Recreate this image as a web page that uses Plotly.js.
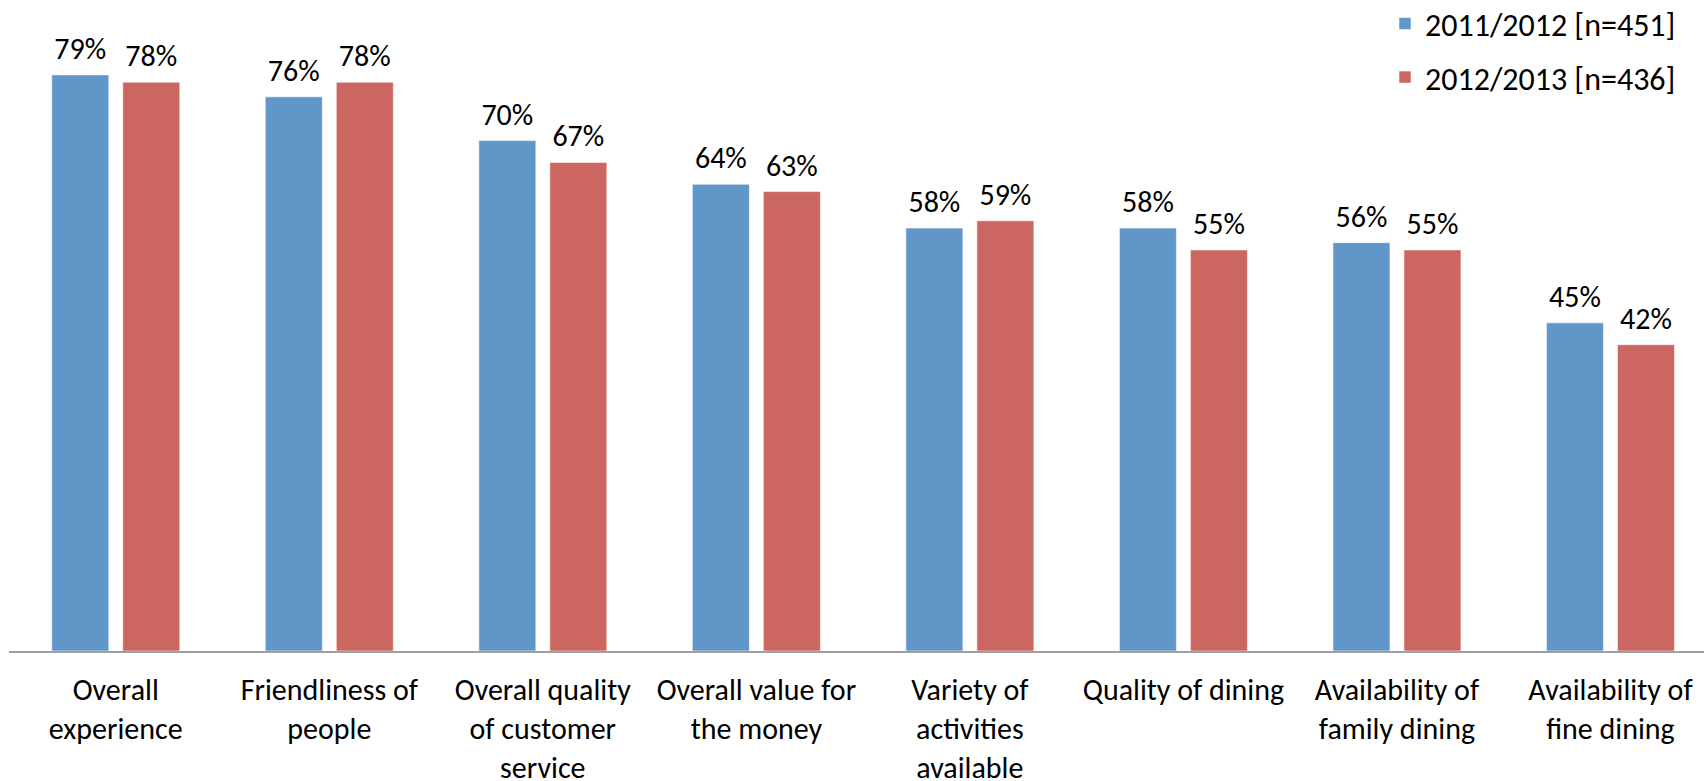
<!DOCTYPE html>
<html>
<head>
<meta charset="utf-8">
<script src="https://cdn.plot.ly/plotly-3.0.1.min.js"></script>
<style>
  html, body { margin: 0; padding: 0; background: #ffffff; }
  #chart { width: 1704px; height: 781px; }
</style>
</head>
<body>
<div id="chart"></div>
<script>
// Survey categories (x axis labels)
const categories = [
  "Overall<br>experience",
  "Friendliness of<br>people",
  "Overall quality<br>of customer<br>service",
  "Overall value for<br>the money",
  "Variety of<br>activities<br>available",
  "Quality of dining",
  "Availability of<br>family dining",
  "Availability of<br>fine dining"
];

// Share of satisfied respondents per season
const season1112 = [0.79, 0.76, 0.70, 0.64, 0.58, 0.58, 0.56, 0.45];
const season1213 = [0.78, 0.78, 0.67, 0.63, 0.59, 0.55, 0.55, 0.42];

const seriesNames = ["2011/2012 [n=451]", "2012/2013 [n=436]"];
const seriesColors = ["rgb(97,150,201)", "rgb(204,102,96)"];

const fontFamily = "Carlito, Lato, 'Liberation Sans', sans-serif";
const labelFont = { family: fontFamily, size: 30, color: "#000000" };

function barTrace(values, i) {
  return {
    type: "bar",
    name: seriesNames[i],
    x: categories,
    y: values,
    legendgroup: "g" + i,
    marker: { color: seriesColors[i], line: { color: "rgba(255,255,255,0.55)", width: 1 } },
    hoverinfo: "skip"
  };
}

// Value labels sit above each bar, grouped the same way as the bars
function labelTrace(values, i) {
  return {
    type: "scatter",
    mode: "markers+text",
    orientation: "v",
    x: categories,
    y: values,
    text: values.map(v => Math.round(v * 100) + "%"),
    textposition: "top center",
    textfont: labelFont,
    marker: { size: 12, color: "rgba(0,0,0,0)" },
    showlegend: false,
    hoverinfo: "skip",
    cliponaxis: false
  };
}

const data = [
  barTrace(season1112, 0),
  barTrace(season1213, 1),
  labelTrace(season1112, 0),
  labelTrace(season1213, 1)
];

const layout = {
  width: 1704,
  height: 781,
  margin: { l: 9, r: 0, t: 2, b: 130, autoexpand: false },
  paper_bgcolor: "#ffffff",
  plot_bgcolor: "#ffffff",
  barmode: "group",
  bargap: 0.335,
  bargroupgap: 0.197,
  scattermode: "group",
  scattergap: 0.335,
  showlegend: true,
  legend: {
    x: 0.8118,
    xanchor: "left",
    y: 1.009,
    yanchor: "top",
    font: { family: fontFamily, size: 32, color: "#000000" },
    bgcolor: "rgba(0,0,0,0)",
    traceorder: "grouped",
    tracegroupgap: 9
  },
  xaxis: {
    type: "category",
    range: [-0.5, 7.438],
    showline: true,
    linecolor: "#a0a0a0",
    linewidth: 2,
    ticks: "",
    showgrid: false,
    zeroline: false,
    tickfont: labelFont,
    ticklabelstandoff: 11,
    automargin: false
  },
  yaxis: {
    range: [0, 0.89],
    showgrid: false,
    zeroline: false,
    showline: false,
    showticklabels: false,
    ticks: "",
    fixedrange: true
  }
};

Plotly.newPlot("chart", data, layout, { displayModeBar: false, staticPlot: true });
</script>
</body>
</html>
